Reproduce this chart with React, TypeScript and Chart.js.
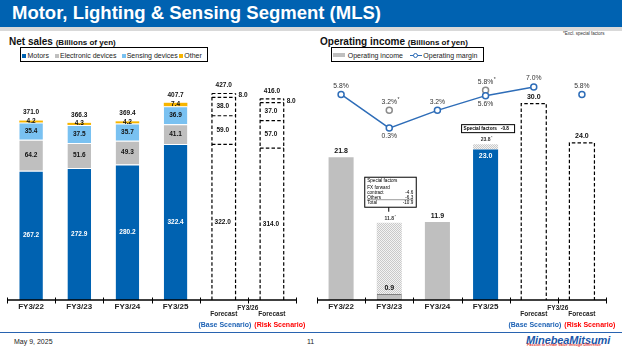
import React, { useEffect, useRef } from 'react';
import { Chart, registerables } from 'chart.js';
Chart.register(...registerables);

const FONT = '"Liberation Sans", Arial, sans-serif';

// ---------- Net sales (Billions of yen) ----------
const salesCategories = ['FY3/22', 'FY3/23', 'FY3/24', 'FY3/25', 'FY3/26 Base', 'FY3/26 Risk'];
const motors = [267.2, 272.9, 280.2, 322.4, 322.0, 314.0];
const electronicDevices = [64.2, 51.6, 49.3, 41.1, 59.0, 57.0];
const sensingDevices = [35.4, 37.5, 35.7, 36.9, 38.0, 37.0];
const otherSales = [4.2, 4.3, 4.2, 7.4, 8.0, 8.0];
const salesTotals = [371.0, 366.3, 369.4, 407.7, 427.0, 416.0];
const forecastFlags = [false, false, false, false, true, true];

// ---------- Operating income (Billions of yen) ----------
const opIncome = [21.8, 0.9, 11.9, 23.0, 30.0, 24.0];
const specialFactors = [null, 10.9, null, 0.8, null, null];
const opIncomeExclSpecial = [null, 11.8, null, 23.8, null, null];
const opMargin = [5.8, 0.3, 3.2, 5.6, 7.0, 5.8];
const opMarginLabelBelow = [false, true, false, true, false, false];
const opMarginExclSpecial = [null, 3.2, null, 6.5, null, null];
const opMarginExclLabels = ['', '3.2%', '', '5.8%', '', ''];

// ---------- tick labels ----------
const axisLabels = ['FY3/22', 'FY3/23', 'FY3/24', 'FY3/25'];
const forecastYear = 'FY3/26';

const C_BLUE = '#0062B1';
const C_GRAY = '#BFBFBF';
const C_LBLUE = '#79C1F1';
const C_YELLOW = '#F7B500';
const C_LINE = '#2E6DB8';

function txt(ctx: CanvasRenderingContext2D, s: string, x: number, y: number, font: string, color: string, align: CanvasTextAlign = 'center') {
  ctx.font = font;
  ctx.fillStyle = color;
  ctx.textAlign = align;
  ctx.textBaseline = 'middle';
  ctx.fillText(s, x, y);
}

function txtStar(ctx: CanvasRenderingContext2D, s: string, x: number, y: number, size: number, color: string, bold = false) {
  const f = `${bold ? 'bold ' : ''}${size}px ${FONT}`;
  ctx.font = f;
  const w = ctx.measureText(s).width;
  txt(ctx, s, x, y, f, color);
  txt(ctx, '*', x + w / 2 + 0.5, y - size * 0.3, `${size * 0.75}px ${FONT}`, color, 'left');
}

function drawAxis(chart: any) {
  const { ctx, chartArea } = chart;
  const x = chart.scales.x;
  const y = chart.scales.y;
  const base = y.getPixelForValue(0);
  ctx.save();
  ctx.setLineDash([]);
  ctx.strokeStyle = '#000';
  ctx.lineWidth = 1.3;
  ctx.beginPath();
  ctx.moveTo(chartArea.left, base);
  ctx.lineTo(chartArea.right, base);
  ctx.stroke();
  const n = x.getLabels().length;
  ctx.lineWidth = 1;
  for (let k = 0; k <= n; k++) {
    const px = k === 0 ? chartArea.left : k === n ? chartArea.right : (x.getPixelForValue(k - 1) + x.getPixelForValue(k)) / 2;
    ctx.beginPath();
    ctx.moveTo(Math.round(px) + 0.5, base - 2.5);
    ctx.lineTo(Math.round(px) + 0.5, base + 3.5);
    ctx.stroke();
  }
  axisLabels.forEach((l, i) => txt(ctx, l, x.getPixelForValue(i), base + 7, `bold 8px ${FONT}`, '#222'));
  const b4 = x.getPixelForValue(4);
  const b5 = x.getPixelForValue(5);
  const mid = (b4 + b5) / 2;
  txt(ctx, forecastYear, mid, base + 8.3, `bold 6.5px ${FONT}`, '#222');
  txt(ctx, 'Forecast', b4, base + 14.3, `bold 6.5px ${FONT}`, '#222');
  txt(ctx, 'Forecast', b5, base + 14.3, `bold 6.5px ${FONT}`, '#222');
  txt(ctx, '(Base Scenario)', mid + 3.5, base + 25, `bold 7px ${FONT}`, '#1F63B5', 'right');
  txt(ctx, '(Risk Scenario)', mid + 6.5, base + 25, `bold 7px ${FONT}`, '#FF0000', 'left');
  ctx.restore();
}

function elProps(el: any) {
  return el.getProps(['x', 'y', 'base', 'width'], true);
}

const salesPlugin = {
  id: 'salesDeco',
  afterDatasetsDraw(chart: any) {
    const ctx = chart.ctx as CanvasRenderingContext2D;
    const series = [motors, electronicDevices, sensingDevices, otherSales];
    const metas = series.map((_, i) => chart.getDatasetMeta(i));
    ctx.save();
    // dashed outlines for forecasts
    ctx.strokeStyle = '#000';
    ctx.lineWidth = 1.2;
    ctx.setLineDash([3.5, 2.2]);
    forecastFlags.forEach((f, j) => {
      if (!f) return;
      const first = elProps(metas[0].data[j]);
      const last = elProps(metas[3].data[j]);
      const l = first.x - first.width / 2;
      const r = first.x + first.width / 2;
      ctx.beginPath();
      ctx.moveTo(l, first.base);
      ctx.lineTo(l, last.y);
      ctx.moveTo(r, first.base);
      ctx.lineTo(r, last.y);
      metas.forEach((m) => {
        const p = elProps(m.data[j]);
        ctx.moveTo(l, p.y);
        ctx.lineTo(r, p.y);
      });
      ctx.stroke();
    });
    ctx.setLineDash([]);
    // segment labels
    series.forEach((vals, i) => {
      vals.forEach((v, j) => {
        const p = elProps(metas[i].data[j]);
        const cy = (p.y + p.base) / 2;
        const f = `bold 6.5px ${FONT}`;
        if (i === 3 && forecastFlags[j]) {
          txt(ctx, v.toFixed(1), p.x + p.width / 2 + 7.5, cy, f, '#111');
        } else if (i === 3) {
          txt(ctx, v.toFixed(1), p.x, cy - 0.5, f, '#111');
        } else if (i === 0 && !forecastFlags[j]) {
          txt(ctx, v.toFixed(1), p.x, cy, f, '#fff');
        } else {
          txt(ctx, v.toFixed(1), p.x - (forecastFlags[j] ? 1 : 0), cy, f, '#111');
        }
      });
    });
    // totals
    salesTotals.forEach((t, j) => {
      const p = elProps(metas[3].data[j]);
      txt(ctx, t.toFixed(1), p.x, p.y - 8, `bold 6.5px ${FONT}`, '#111');
    });
    ctx.restore();
    drawAxis(chart);
  },
};

function makeHatch(): any {
  const c = document.createElement('canvas');
  c.width = 2;
  c.height = 2;
  const g = c.getContext('2d')!;
  g.fillStyle = '#F3F3F3';
  g.fillRect(0, 0, 2, 2);
  g.fillStyle = '#C9C9C9';
  g.fillRect(0, 0, 1, 1);
  g.fillRect(1, 1, 1, 1);
  return g.createPattern(c, 'repeat');
}

const incomePlugin = {
  id: 'incomeDeco',
  afterDatasetsDraw(chart: any) {
    const ctx = chart.ctx as CanvasRenderingContext2D;
    const x = chart.scales.x;
    const y = chart.scales.y;
    const y2 = chart.scales.y2;
    const barMeta = chart.getDatasetMeta(0);
    const hatchMeta = chart.getDatasetMeta(1);
    ctx.save();
    // dashed forecast bars
    ctx.strokeStyle = '#000';
    ctx.lineWidth = 1.2;
    ctx.setLineDash([3.5, 2.2]);
    forecastFlags.forEach((f, j) => {
      if (!f) return;
      const p = elProps(barMeta.data[j]);
      const l = p.x - p.width / 2;
      const r = p.x + p.width / 2;
      ctx.beginPath();
      ctx.moveTo(l, p.base);
      ctx.lineTo(l, p.y);
      ctx.lineTo(r, p.y);
      ctx.lineTo(r, p.base);
      ctx.stroke();
    });
    ctx.setLineDash([]);
    // bar value labels
    opIncome.forEach((v, j) => {
      const p = elProps(barMeta.data[j]);
      if (j === 3) {
        txt(ctx, v.toFixed(1), p.x, p.y + 6.5, `bold 7px ${FONT}`, '#fff');
      } else {
        txt(ctx, v.toFixed(1), p.x, p.y - 6.5, `bold 7px ${FONT}`, '#111');
      }
    });
    opIncomeExclSpecial.forEach((v, j) => {
      if (v == null) return;
      const p = elProps(hatchMeta.data[j]);
      txtStar(ctx, v.toFixed(1), p.x, p.y - 4.5, 5, '#333', true);
    });
    // margin labels
    opMargin.forEach((v, j) => {
      const py = y2.getPixelForValue(v);
      const px = x.getPixelForValue(j);
      txt(ctx, v.toFixed(1) + '%', px, py + (opMarginLabelBelow[j] ? 8.5 : -8.5), `6.8px ${FONT}`, '#333');
    });
    opMarginExclSpecial.forEach((v, j) => {
      if (v == null) return;
      const py = y2.getPixelForValue(v);
      txtStar(ctx, opMarginExclLabels[j], x.getPixelForValue(j), py - 8.3, 6.8, '#333');
    });
    // special factors box (FY3/23)
    const c1 = x.getPixelForValue(1);
    const top1 = y.getPixelForValue(opIncomeExclSpecial[1] as number);
    const bx = c1 - 25;
    const bw = 51.5;
    const bb = top1 - 16;
    const bt = bb - 30;
    ctx.fillStyle = '#fff';
    ctx.fillRect(bx, bt, bw, bb - bt);
    ctx.strokeStyle = '#000';
    ctx.lineWidth = 1;
    ctx.strokeRect(bx + 0.5, bt + 0.5, bw, bb - bt);
    ctx.beginPath();
    ctx.moveTo(c1 - 0.5, bb + 0.5);
    ctx.lineTo(c1 - 0.5, bb + 5);
    ctx.stroke();
    const sf = `4.6px ${FONT}`;
    txt(ctx, 'Special factors', bx + 3, bt + 4.5, sf, '#000', 'left');
    txt(ctx, 'FX forward', bx + 3, bt + 10.7, sf, '#000', 'left');
    txt(ctx, 'contract', bx + 3, bt + 15.8, sf, '#000', 'left');
    txt(ctx, '-4.6', bx + bw - 2.5, bt + 15.8, sf, '#000', 'right');
    txt(ctx, 'Others', bx + 3, bt + 20.6, sf, '#000', 'left');
    txt(ctx, '-6.3', bx + bw - 2.5, bt + 20.6, sf, '#000', 'right');
    ctx.strokeStyle = '#555';
    ctx.lineWidth = 0.6;
    ctx.beginPath();
    ctx.moveTo(bx + 3, bt + 23);
    ctx.lineTo(bx + bw - 2.5, bt + 23);
    ctx.stroke();
    txt(ctx, 'Total', bx + 3, bt + 26, sf, '#000', 'left');
    txt(ctx, '-10.9', bx + bw - 2.5, bt + 26, sf, '#000', 'right');
    // special factors box (FY3/25)
    const c3 = x.getPixelForValue(3);
    const top3 = y.getPixelForValue(opIncomeExclSpecial[3] as number);
    const b2x = c3 - 24.5;
    const b2w = 53;
    const b2b = top3 - 12;
    const b2t = b2b - 8;
    ctx.fillStyle = '#fff';
    ctx.fillRect(b2x, b2t, b2w, 8);
    ctx.strokeStyle = '#000';
    ctx.lineWidth = 1;
    ctx.strokeRect(b2x + 0.5, b2t + 0.5, b2w, 8);
    txt(ctx, 'Special factors   -0.8', b2x + 2.5, b2t + 4.5, `bold 4.7px ${FONT}`, '#000', 'left');
    ctx.restore();
    drawAxis(chart);
  },
};

function salesConfig(): any {
  const segColors = [C_BLUE, C_GRAY, C_LBLUE, C_YELLOW];
  const series = [motors, electronicDevices, sensingDevices, otherSales];
  const names = ['Motors', 'Electronic devices', 'Sensing devices', 'Other'];
  return {
    type: 'bar',
    data: {
      labels: salesCategories,
      datasets: series.map((vals, i) => ({
        label: names[i],
        data: vals,
        backgroundColor: vals.map((_, j) => (forecastFlags[j] ? '#fff' : segColors[i])),
        borderColor: '#fff',
        borderWidth: i < 3 ? { top: 1, left: 0, right: 0, bottom: 0 } : 0,
        borderSkipped: false,
        barPercentage: 0.49,
        categoryPercentage: 1,
      })),
    },
    options: {
      responsive: false,
      animation: false,
      devicePixelRatio: 1,
      layout: { padding: { left: 7, right: 14, top: 0, bottom: 30 } },
      plugins: { legend: { display: false }, tooltip: { enabled: false } },
      scales: {
        x: { display: false, stacked: true },
        y: { display: false, stacked: true, min: 0, max: 488 },
      },
    },
    plugins: [salesPlugin],
  };
}

function incomeConfig(): any {
  const hatch = makeHatch();
  return {
    type: 'bar',
    data: {
      labels: salesCategories,
      datasets: [
        {
          label: 'Operating income',
          data: opIncome,
          backgroundColor: opIncome.map((_, j) => (forecastFlags[j] ? '#fff' : j === 3 ? C_BLUE : C_GRAY)),
          borderColor: '#7F7F7F',
          borderWidth: opIncome.map((_, j) => (j === 1 ? 1 : 0)),
          borderSkipped: false,
          barPercentage: 0.52,
          categoryPercentage: 1,
          stack: 's',
          order: 2,
        },
        {
          label: 'Special factors',
          data: specialFactors,
          backgroundColor: hatch,
          borderWidth: 0,
          barPercentage: 0.52,
          categoryPercentage: 1,
          stack: 's',
          order: 2,
        },
        {
          type: 'line',
          label: 'Operating margin',
          data: opMargin,
          yAxisID: 'y2',
          borderColor: C_LINE,
          borderWidth: 1.5,
          pointRadius: 3,
          pointBorderWidth: 1.5,
          pointBackgroundColor: '#fff',
          pointBorderColor: C_LINE,
          segment: { borderColor: (c: any) => (c.p1DataIndex === 5 ? 'rgba(0,0,0,0)' : C_LINE) },
          order: 0,
        },
        {
          type: 'line',
          label: 'Operating margin (excl. special factors)',
          data: opMarginExclSpecial,
          yAxisID: 'y2',
          showLine: false,
          pointRadius: 3,
          pointBorderWidth: 1.5,
          pointBackgroundColor: '#fff',
          pointBorderColor: '#8C8C8C',
          order: 1,
        },
      ],
    },
    options: {
      responsive: false,
      animation: false,
      devicePixelRatio: 1,
      layout: { padding: { left: 7, right: 16, top: 0, bottom: 30 } },
      plugins: { legend: { display: false }, tooltip: { enabled: false } },
      scales: {
        x: { display: false, stacked: true },
        y: { display: false, stacked: true, min: 0, max: 35.2 },
        y2: { display: false, stacked: false, min: -27.77, max: 9.87 },
      },
    },
    plugins: [incomePlugin],
  };
}

const abs = (l: number, t: number, extra: React.CSSProperties = {}): React.CSSProperties => ({
  position: 'absolute',
  left: l,
  top: t,
  whiteSpace: 'nowrap',
  lineHeight: 1,
  ...extra,
});

export default function App() {
  const leftRef = useRef<HTMLCanvasElement>(null);
  const rightRef = useRef<HTMLCanvasElement>(null);
  useEffect(() => {
    const prev = document.body.style.margin;
    document.body.style.margin = '0';
    const c1 = new Chart(leftRef.current as HTMLCanvasElement, salesConfig());
    const c2 = new Chart(rightRef.current as HTMLCanvasElement, incomeConfig());
    return () => {
      c1.destroy();
      c2.destroy();
      document.body.style.margin = prev;
    };
  }, []);

  const sq = (l: number, color: string) => (
    <div style={abs(l, 53.5, { width: 4, height: 4, background: color })} />
  );
  const legText = (l: number, s: string) => (
    <div style={abs(l, 52.3, { fontSize: 7, color: '#222' })}>{s}</div>
  );

  return (
    <div
      style={{
        position: 'fixed',
        left: 0,
        top: 0,
        width: 622,
        height: 350,
        background: '#fff',
        overflow: 'hidden',
        fontFamily: FONT,
      }}
    >
      {/* header */}
      <div style={abs(0, 0, { width: 622, height: 27, background: '#0062B1' })} />
      <div style={abs(0, 27, { width: 622, height: 4, background: '#D9D9D9' })} />
      <div style={abs(12, 4, { fontSize: 18.5, fontWeight: 'bold', color: '#fff' })}>
        Motor, Lighting &amp; Sensing Segment (MLS)
      </div>
      <div style={abs(563, 32, { fontSize: 4.5, color: '#333' })}>*Excl. special factors</div>

      {/* section titles */}
      <div style={abs(9, 37, { fontSize: 10, fontWeight: 'bold', color: '#111' })}>
        Net sales <span style={{ fontSize: 8 }}>(Billions of yen)</span>
      </div>
      <div style={abs(320, 37, { fontSize: 10, fontWeight: 'bold', color: '#111' })}>
        Operating income <span style={{ fontSize: 8 }}>(Billions of yen)</span>
      </div>

      {/* left legend */}
      <div style={abs(20, 47, { width: 186, height: 13, border: '1.5px solid #000' })} />
      {sq(22, C_BLUE)}
      {legText(27.5, 'Motors')}
      {sq(54.5, C_GRAY)}
      {legText(60, 'Electronic devices')}
      {sq(121.5, C_LBLUE)}
      {legText(126.7, 'Sensing devices')}
      {sq(179.3, C_YELLOW)}
      {legText(184.3, 'Other')}

      {/* right legend */}
      <div style={abs(330.5, 47, { width: 151, height: 13, border: '1.5px solid #000' })} />
      <div style={abs(333, 53.3, { width: 12, height: 3.5, background: C_GRAY })} />
      {legText(347.7, 'Operating income')}
      <div style={abs(410, 54.5, { width: 12, height: 1.5, background: C_LINE })} />
      <div
        style={abs(413.3, 52.6, {
          width: 3,
          height: 3,
          borderRadius: '50%',
          border: `1.3px solid ${C_LINE}`,
          background: '#fff',
        })}
      />
      {legText(423.3, 'Operating margin')}

      {/* charts */}
      <canvas ref={leftRef} width={310} height={266} style={abs(0, 64, { width: 310, height: 266 })} />
      <canvas ref={rightRef} width={312} height={266} style={abs(310, 64, { width: 312, height: 266 })} />

      {/* footer */}
      <div style={abs(0, 331.5, { width: 622, height: 1.5, background: '#2863B0' })} />
      <div style={abs(14, 337.5, { fontSize: 7, color: '#222' })}>May 9, 2025</div>
      <div style={abs(307, 337.5, { fontSize: 7, color: '#222' })}>11</div>
      <div
        style={abs(526, 335, {
          fontSize: 11,
          fontWeight: 'bold',
          fontStyle: 'italic',
          color: '#1A56A8',
          letterSpacing: -0.1,
        })}
      >
        MinebeaMitsumi
      </div>
      <div style={abs(527, 344.2, { fontSize: 3.6, fontWeight: 'bold', fontStyle: 'italic', color: '#E0322B' })}>
        Passion to Create Value through Difference
      </div>
    </div>
  );
}
